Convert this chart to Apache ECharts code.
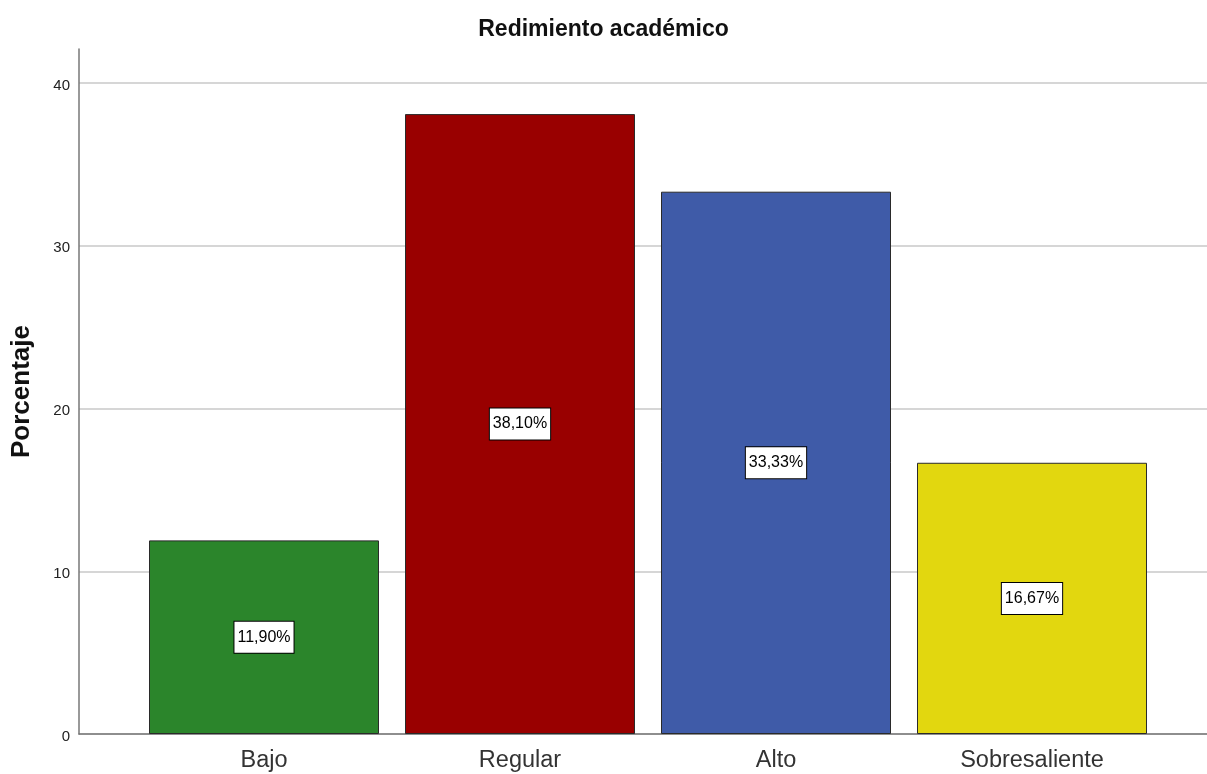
<!DOCTYPE html>
<html><head><meta charset="utf-8">
<script src="https://cdn.jsdelivr.net/npm/echarts@6/dist/echarts.min.js"></script>
<style>html,body{margin:0;padding:0;background:#fff}#c{width:1207px;height:774px}</style>
</head><body><div id="c"></div>
<script>
var categories = ["Bajo", "Regular", "Alto", "Sobresaliente"];
var values = [11.90, 38.10, 33.33, 16.67];
var colors = ["#2b852b", "#990000", "#3f5ba8", "#e2d70f"];
var yTicks = [0, 10, 20, 30, 40];

var FONT = "'Liberation Sans', Arial, sans-serif";
var chart = echarts.init(document.getElementById('c'));
chart.setOption({
  animation: false,
  backgroundColor: '#ffffff',
  title: { text: 'Redimiento académico', left: 'center', top: 13,
    textStyle: { fontFamily: FONT, fontSize: 23, fontWeight: 'bold', color: '#111' } },
  grid: [
    { left: 79, right: 0, top: 83, bottom: 40 },
    { left: 136, right: 47, top: 49, bottom: 40 },
    { left: 79, right: 0, top: 49, bottom: 40 }
  ],
  xAxis: [
    { type: 'category', gridIndex: 0, data: categories,
      axisLine: { show: true, lineStyle: { color: '#777', width: 1.5 } },
      axisTick: { show: false }, axisLabel: { show: false }, splitLine: { show: false } },
    { type: 'category', gridIndex: 1, data: categories,
      axisLine: { show: false }, axisTick: { show: false },
      axisLabel: { fontFamily: FONT, fontSize: 23.5, color: '#333', margin: 15 } },
    { type: 'value', gridIndex: 2, show: false }
  ],
  yAxis: [
    { type: 'value', gridIndex: 0, min: 0, max: 40, interval: 10,
      axisLine: { show: false },
      axisTick: { show: false },
      axisLabel: { fontFamily: FONT, fontSize: 15, color: '#222', margin: 9,
        verticalAlign: 'top', lineHeight: 15, padding: [-5, 0, 0, 0],
        formatter: function (v) { return yTicks.indexOf(v) >= 0 ? String(v) : ''; } },
      splitLine: { show: true, lineStyle: { color: '#c8c8c8', width: 1.5 } } },
    { type: 'value', gridIndex: 1, min: 0, max: 42.1, show: false, splitLine: { show: false } },
    { type: 'value', gridIndex: 2, min: 0, max: 42.1,
      name: 'Porcentaje', nameLocation: 'middle', nameGap: 44, nameRotate: 90,
      nameTextStyle: { fontFamily: FONT, fontSize: 26, fontWeight: 'bold', color: '#111' },
      axisLine: { show: true, lineStyle: { color: '#777', width: 1.5 } },
      axisTick: { show: false }, axisLabel: { show: false }, splitLine: { show: false } }
  ],
  series: [{
    type: 'bar', xAxisIndex: 1, yAxisIndex: 1, barWidth: 230,
    data: values.map(function (v, i) {
      return { value: v, itemStyle: { color: colors[i], borderColor: '#2a2a2a', borderWidth: 1 } };
    }),
    label: { show: true, position: 'inside',
      formatter: function (p) { return p.value.toFixed(2).replace('.', ',') + '%'; },
      fontFamily: FONT, fontSize: 16, lineHeight: 16, color: '#000',
      backgroundColor: '#fff', borderColor: '#000', borderWidth: 1, padding: [8, 3, 7, 3] }
  }]
});
</script></body></html>
